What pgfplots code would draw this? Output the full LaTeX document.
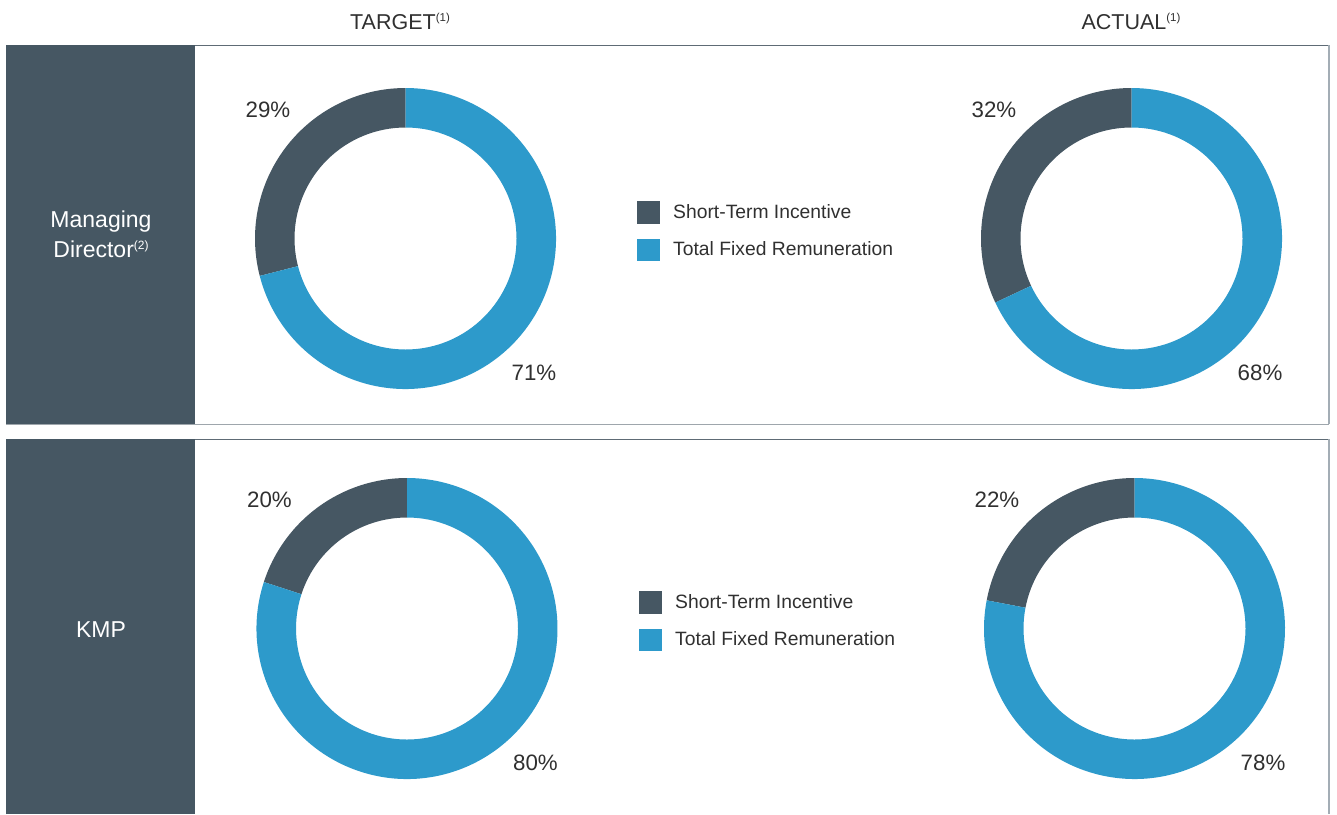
\documentclass[border=0pt]{standalone}
\usepackage{pgfplots}
\pgfplotsset{compat=1.18}
\usepackage{fontspec}
\setmainfont{Liberation Sans}
\definecolor{sti}{HTML}{465763}
\definecolor{tfr}{HTML}{2D9ACB}
\definecolor{txt}{HTML}{303030}
\definecolor{framec}{HTML}{5E6B75}
\definecolor{framer}{HTML}{A3ADB5}

% #1 cx, #2 cy, #3 short-term incentive %, #4 total fixed remuneration %
\newcommand{\donut}[4]{%
  \begin{scope}[shift={(axis cs:#1,#2)}]
    \fill[sti] (90:150.5pt) arc[start angle=90, end angle={90+3.6*#3}, radius=150.5pt]
      -- ({90+3.6*#3}:111pt) arc[start angle={90+3.6*#3}, end angle=90, radius=111pt] -- cycle;
    \fill[tfr] ({90+3.6*#3}:150.5pt) arc[start angle={90+3.6*#3}, end angle={90+3.6*#3+3.6*#4}, radius=150.5pt]
      -- ({90+3.6*#3+3.6*#4}:111pt) arc[start angle={90+3.6*#3+3.6*#4}, end angle={90+3.6*#3}, radius=111pt] -- cycle;
    \node[anchor=base, text=txt, font=\fontsize{22.3}{22}\selectfont, inner sep=0pt] at (-137.5pt,121pt) {#3\%};
    \node[anchor=base, text=txt, font=\fontsize{22.3}{22}\selectfont, inner sep=0pt] at (128.5pt,-142pt) {#4\%};
  \end{scope}
}
\newcommand{\legendblock}[2]{% x of square, y top of first square
  \fill[sti] (axis cs:#1,#2) rectangle (axis cs:{#1+23},{#2+22.5});
  \fill[tfr] (axis cs:#1,{#2+37.5}) rectangle (axis cs:{#1+23},{#2+60});
  \node[anchor=base west, text=txt, font=\fontsize{19.3}{19}\selectfont, inner sep=0pt] at (axis cs:{#1+36},{#2+17.3}) {Short-Term Incentive};
  \node[anchor=base west, text=txt, font=\fontsize{19.3}{19}\selectfont, inner sep=0pt] at (axis cs:{#1+36},{#2+54.7}) {Total Fixed Remuneration};
}

\begin{document}
\begin{tikzpicture}
\begin{axis}[
  width=1337pt, height=814pt, scale only axis,
  xmin=0, xmax=1337, ymin=0, ymax=814, y dir=reverse,
  hide axis, clip=false
]
\path (axis cs:0,0) rectangle (axis cs:1337,814);

% titles
\node[anchor=base, text=txt, font=\fontsize{21.5}{21}\selectfont, inner sep=0pt] at (axis cs:400,29)
  {TARGET{\fontsize{11.5}{11.5}\selectfont\raisebox{7.5pt}{(1)}}};
\node[anchor=base, text=txt, font=\fontsize{21.5}{21}\selectfont, inner sep=0pt] at (axis cs:1131,29)
  {ACTUAL{\fontsize{11.5}{11.5}\selectfont\raisebox{7.5pt}{(1)}}};

% top panel
\draw[framec, line width=1pt] (axis cs:6,424) -- (axis cs:6,45) -- (axis cs:1329,45);
\draw[framer, line width=1.5pt] (axis cs:1329,45) -- (axis cs:1329,424);
\draw[framec!60, line width=1pt] (axis cs:6,424) -- (axis cs:1329,424);
\fill[sti] (axis cs:6,45) rectangle (axis cs:195,424);
\node[text=white, font=\fontsize{23}{23}\selectfont, inner sep=0pt, anchor=base] at (axis cs:101,227) {Managing};
\node[text=white, font=\fontsize{23}{23}\selectfont, inner sep=0pt, anchor=base] at (axis cs:101,257)
  {Director{\fontsize{12}{12}\selectfont\raisebox{8pt}{(2)}}};

% bottom panel
\draw[framec, line width=1pt] (axis cs:6,814) -- (axis cs:6,439) -- (axis cs:1329,439);
\draw[framer, line width=1.5pt] (axis cs:1329,439) -- (axis cs:1329,814);
\fill[sti] (axis cs:6,439) rectangle (axis cs:195,814);
\node[text=white, font=\fontsize{23}{23}\selectfont, inner sep=0pt, anchor=base] at (axis cs:101,637) {KMP};

% donuts
\donut{405.5}{238.5}{29}{71}
\donut{1131.5}{238.5}{32}{68}
\donut{407}{628.5}{20}{80}
\donut{1134.5}{628.5}{22}{78}

% legends
\legendblock{637}{201}
\legendblock{639}{591}
\end{axis}
\end{tikzpicture}
\end{document}
